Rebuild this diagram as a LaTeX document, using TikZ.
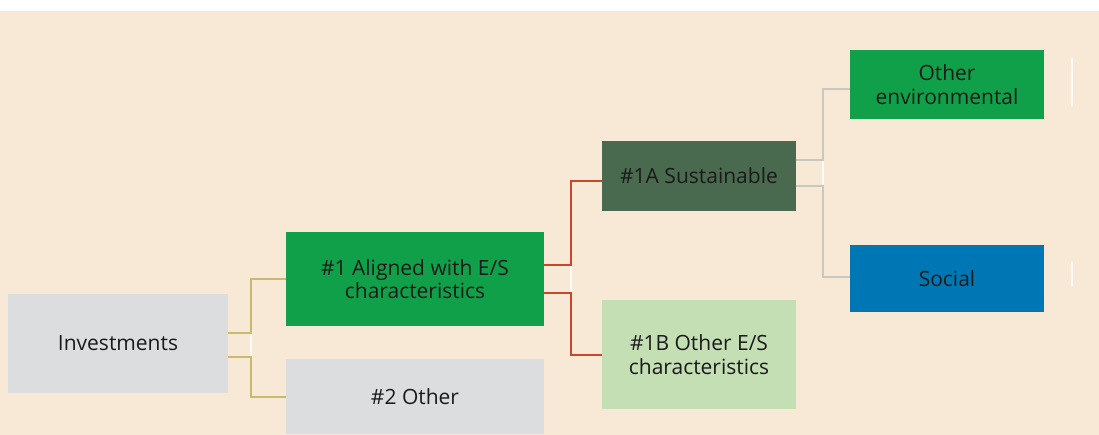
\documentclass[tikz,border=0pt]{standalone}
\usepackage{fontspec}
\setmainfont{Open Sans}
\usepackage{tikz}

\begin{document}
\begin{tikzpicture}[x=1pt,y=-1pt,line cap=rect,
		esbox/.style={inner sep=0, outer sep=0, align=center, text=custcol_txt,
			font=\fontsize{21pt}{23.3pt}\selectfont},
		olivewire/.style={line width=2.0pt, custcol_olive, line cap=butt},
		redwire/.style={line width=2.0pt, custcol_red, line cap=butt},
		greywire/.style={line width=2.0pt, custcol_wire, line cap=butt},
		gapline/.style={line width=1.5pt, white, opacity=0.8, line cap=butt}]
					\definecolor{custcol_bg}{RGB}{248, 233, 215}
					\definecolor{custcol_grey}{RGB}{220, 221, 223}
					\definecolor{custcol_green}{RGB}{17, 160, 74}
					\definecolor{custcol_dark}{RGB}{74, 106, 79}
					\definecolor{custcol_light}{RGB}{197, 223, 180}
					\definecolor{custcol_blue}{RGB}{0, 119, 181}
					\definecolor{custcol_olive}{RGB}{200, 186, 108}
					\definecolor{custcol_red}{RGB}{200, 70, 42}
					\definecolor{custcol_wire}{RGB}{200, 200, 192}
					\definecolor{custcol_txt}{RGB}{26, 26, 26}
					\useasboundingbox (0,0) rectangle (1099,435);
					\fill [custcol_bg]  (0,11) rectangle (1099,435);
					% boxes
					\node[esbox, fill=custcol_grey, minimum width=220pt, minimum height=99pt] (inv) at (118,343.5) {Investments};
					\node[esbox, fill=custcol_green, minimum width=258pt, minimum height=94pt] (aligned) at (415,279) {\#1 Aligned with E/S\\characteristics};
					\node[esbox, fill=custcol_grey, minimum width=258pt, minimum height=75pt] (other) at (415,396.5) {\#2 Other};
					\node[esbox, fill=custcol_dark, minimum width=194pt, minimum height=70pt] (sust) at (699,176) {\#1A Sustainable};
					\node[esbox, fill=custcol_light, minimum width=194pt, minimum height=109pt] (otheres) at (699,354.5) {\#1B Other E/S\\characteristics};
					\node[esbox, fill=custcol_green, minimum width=194pt, minimum height=69pt] (env) at (947,84.5) {Other\\environmental};
					\node[esbox, fill=custcol_blue, minimum width=194pt, minimum height=67pt] (social) at (947,278.5) {Social};
					% connectors
					\draw [olivewire]  ([yshift=10.5pt]inv.east) -- ++(23,0) |- (aligned.west);
					\draw [olivewire]  ([yshift=-13.5pt]inv.east) -- ++(23,0) |- (other.west);
					\draw [gapline]  ([xshift=23pt,yshift=9.5pt]inv.east) -- ([xshift=23pt,yshift=-12.5pt]inv.east);
					\draw [redwire]  ([yshift=14pt]aligned.east) -- ++(27,0) |- ([yshift=-5pt]sust.west);
					\draw [redwire]  ([yshift=-14pt]aligned.east) -- ++(27,0) |- (otheres.west);
					\draw [gapline]  ([xshift=27pt,yshift=13pt]aligned.east) -- ([xshift=27pt,yshift=-13pt]aligned.east);
					\draw [greywire]  ([yshift=16pt]sust.east) -- ++(27,0) |- ([yshift=-4.5pt]env.west);
					\draw [greywire]  ([yshift=-10pt]sust.east) -- ++(27,0) |- ([yshift=1.5pt]social.west);
					\draw [gapline]  ([xshift=27pt,yshift=15pt]sust.east) -- ([xshift=27pt,yshift=-9pt]sust.east);
					\draw [gapline]  ([xshift=28pt,yshift=26.5pt]env.east) -- ([xshift=28pt,yshift=-21.5pt]env.east);
					\draw [gapline]  ([xshift=28pt,yshift=16.5pt]social.east) -- ([xshift=28pt,yshift=-7.5pt]social.east);
				\end{tikzpicture}
\end{document}
